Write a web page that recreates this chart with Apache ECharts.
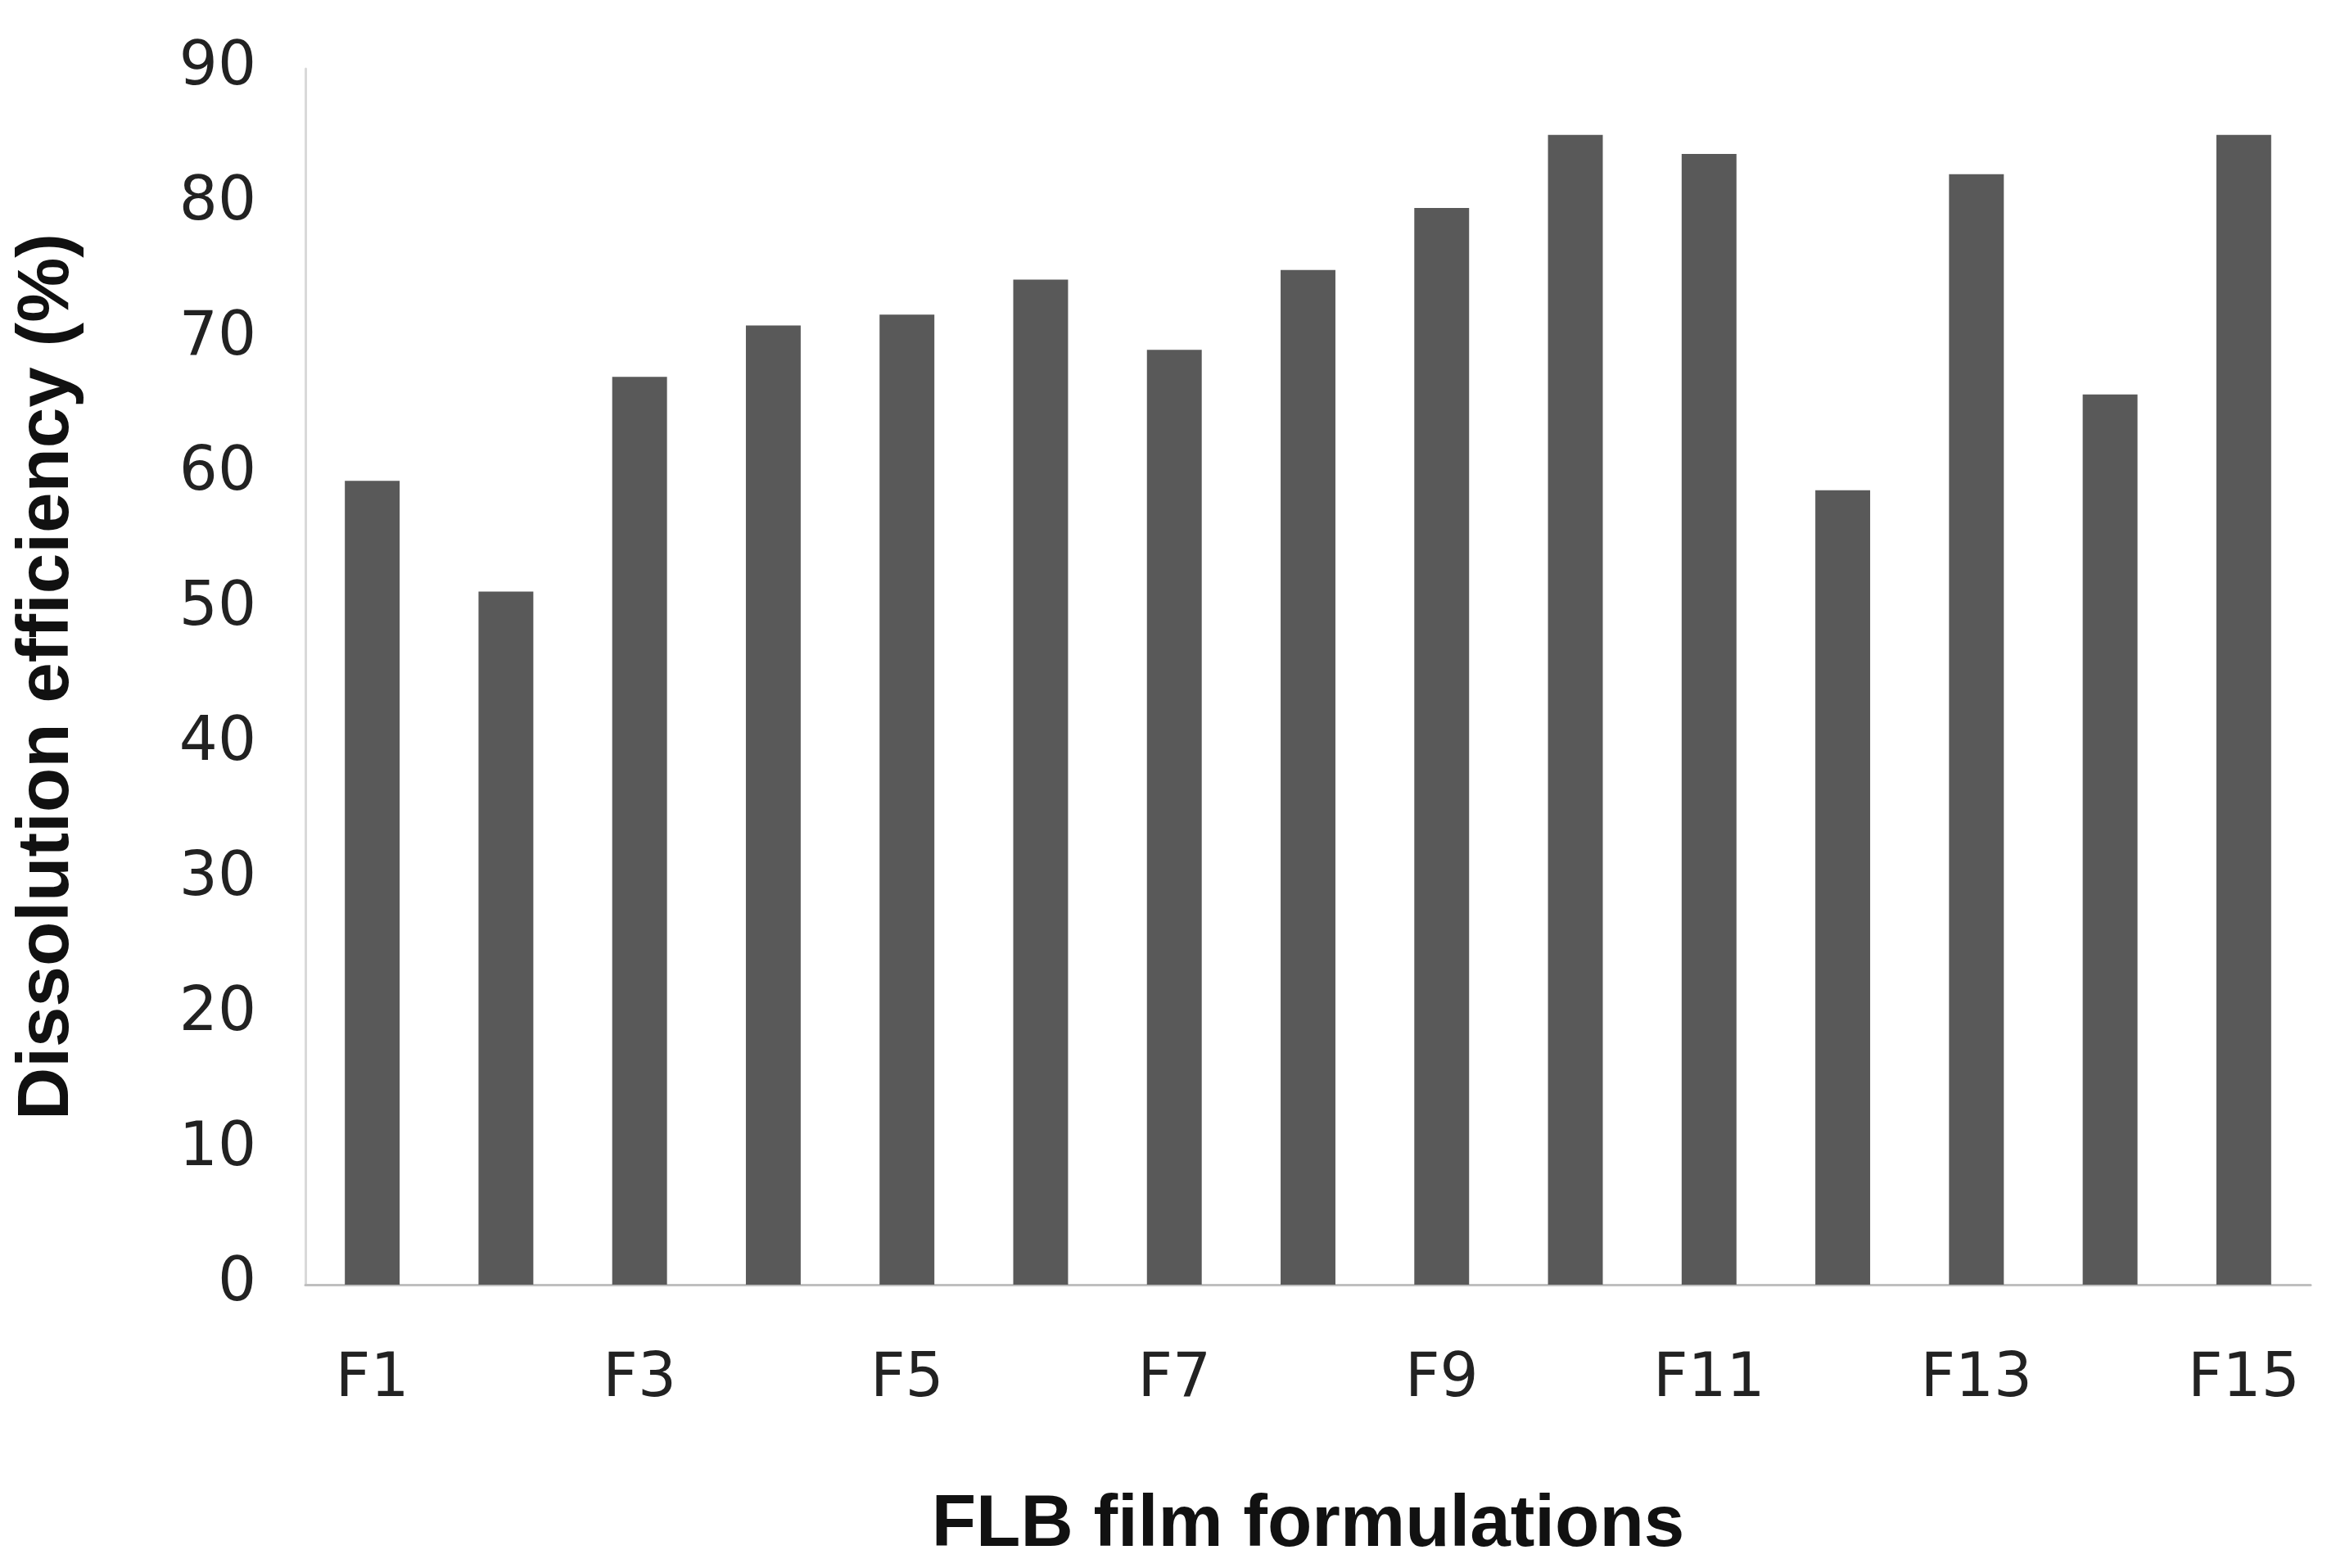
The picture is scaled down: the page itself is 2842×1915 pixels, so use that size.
<!DOCTYPE html>
<html><head><meta charset="utf-8">
<script src="https://cdn.jsdelivr.net/npm/echarts@6/dist/echarts.min.js"></script>
<style>html,body{margin:0;padding:0;background:#fff}#chart{width:2842px;height:1915px}</style>
</head><body><div id="chart"></div>
<script>
var categories = ['F1','F2','F3','F4','F5','F6','F7','F8','F9','F10','F11','F12','F13','F14','F15'];
var efficiency = [59.5,51.3,67.2,71.0,71.8,74.4,69.2,75.1,79.7,85.1,83.7,58.8,82.2,65.9,85.1];
var yTicks = {min: 0, max: 90, interval: 10};

var chart = echarts.init(document.getElementById('chart'));
chart.setOption({
	animation: false,
	grid: {left: 373, right: 20, top: 84, bottom: 346},
	xAxis: {
		type: 'category', data: categories,
		axisLine: {lineStyle: {color: '#bfbfbf', width: 3}},
		axisTick: {show: false},
		axisLabel: {color: '#222', fontSize: 74, fontFamily: 'DejaVu Sans', margin: 80},
		name: 'FLB film formulations', nameLocation: 'middle', nameGap: 250,
		nameTextStyle: {color: '#111', fontSize: 89, fontWeight: 'bold', fontFamily: 'Liberation Sans'}
	},
	yAxis: {
		type: 'value', min: yTicks.min, max: yTicks.max, interval: yTicks.interval,
		axisLine: {show: true, lineStyle: {color: '#d9d9d9', width: 3}},
		axisTick: {show: false},
		splitLine: {show: false},
		axisLabel: {color: '#222', fontSize: 74, fontFamily: 'DejaVu Sans', margin: 60},
		name: 'Dissolution efficiency (%)', nameLocation: 'middle', nameGap: 270,
		nameTextStyle: {color: '#111', fontSize: 89, fontWeight: 'bold', fontFamily: 'Liberation Sans'}
	},
	series: [{
		type: 'bar', data: efficiency, barWidth: '41%',
		itemStyle: {color: '#595959'}
	}]
});
</script></body></html>
